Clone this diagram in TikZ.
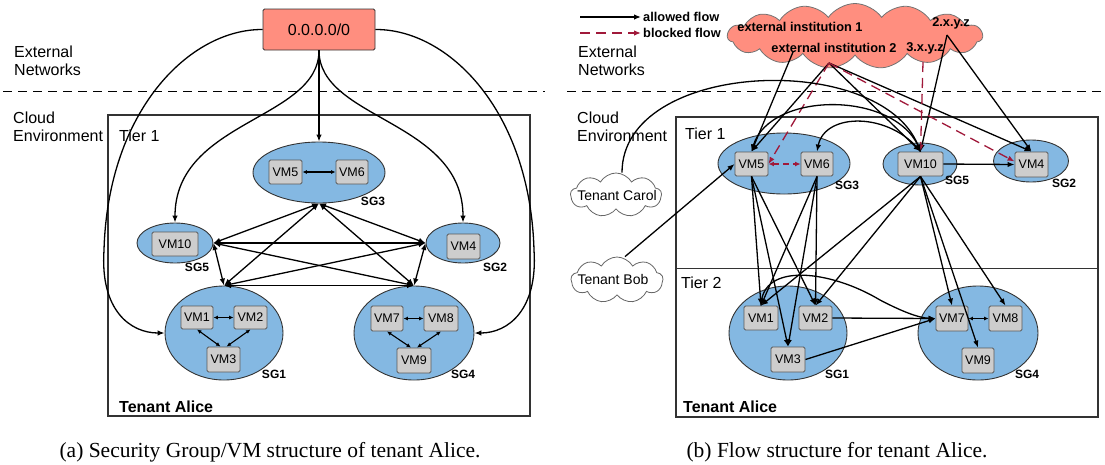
\documentclass[tikz,border=0pt]{standalone}
\usepackage{fontspec}
\setmainfont{Liberation Sans}
\newfontfamily\capfont{Liberation Serif}
\usetikzlibrary{shapes.geometric,shapes.symbols,arrows.meta}
\definecolor{salmon}{HTML}{FF8E7F}
\definecolor{sgblue}{HTML}{84B8E2}
\definecolor{vmgray}{HTML}{CDCDCD}
\definecolor{blockred}{HTML}{A0193A}
\definecolor{framegray}{HTML}{333333}
\begin{document}
\begin{tikzpicture}[x=1pt,y=-1pt,
  sg/.style={ellipse,draw=framegray,fill=sgblue,line width=0.9pt,inner sep=0pt},
  vm/.style={draw=black!65,fill=vmgray,rounded corners=1.5pt,line width=0.9pt,inner sep=0pt,
    minimum height=24pt,font=\fontsize{12.5}{14}\selectfont},
  sglab/.style={font=\fontsize{12}{14}\selectfont\bfseries,inner sep=0pt},
  big/.style={font=\fontsize{16}{18.5}\selectfont,align=left,inner sep=0pt},
  leg/.style={font=\fontsize{12.8}{15}\selectfont\bfseries,inner sep=0pt},
  frame/.style={draw=framegray,line width=1.1pt},
  sep/.style={draw=black,line width=1pt,dash pattern=on 9pt off 6pt},
  flow/.style={-{Latex[length=7pt,width=5.5pt]},line width=1.3pt},
  both/.style={{Latex[length=7pt,width=5.5pt]}-{Latex[length=7pt,width=5.5pt]},line width=1.3pt},
  small/.style={{Latex[length=4.5pt,width=4pt]}-{Latex[length=4.5pt,width=4pt]},line width=1.1pt},
  blocked/.style={-{Latex[length=7pt,width=5.5pt]},line width=1.3pt,draw=blockred,dash pattern=on 10pt off 6pt},
  tcloud/.style={cloud,cloud puffs=9,cloud puff arc=120,aspect=2,draw=black!60,fill=white,line width=0.8pt,
    inner sep=0pt},
  ttext/.style={font=\fontsize{14}{16}\selectfont,inner sep=0pt}
]
\useasboundingbox (0,0) rectangle (1105,464);

% ---------------- separators and texts ----------------
\draw[sep] (3,91) -- (545,91);
\draw[sep] (567,91) -- (1105,91);
\node[big,anchor=west] (extA) at (14,61) {External\\Networks};
\node[big,anchor=west] (cloudA) at (13,127) {Cloud\\Environment};
\node[big,anchor=west] (extB) at (578,61) {External\\Networks};
\node[big,anchor=west] (cloudB) at (577,127) {Cloud\\Environment};

% ================= LEFT PANEL =================
\draw[frame] (108,115) rectangle (530,416);
\node[big,anchor=west] (tierA) at (119,136) {Tier 1};
\node[big,anchor=west,font=\fontsize{16}{18}\selectfont\bfseries] (aliceA) at (119,407) {Tenant Alice};

\node[draw=framegray,fill=salmon,line width=0.9pt,rounded corners=1.5pt,minimum width=112pt,minimum height=41pt,
  font=\fontsize{16}{18}\selectfont] (net) at (319,29.5) {0.0.0.0/0};

\node[sg,minimum width=132pt,minimum height=61pt] (sg3a) at (319,172.5) {};
\node[vm,minimum width=33pt] (vm5a) at (285.5,172) {VM5};
\node[vm,minimum width=32pt] (vm6a) at (352,172) {VM6};
\node[sglab] (l3a) at (373,201) {SG3};

\node[sg,minimum width=76pt,minimum height=40pt] (sg5a) at (175,243) {};
\node[vm,minimum width=46pt] (vm10a) at (175,244) {VM10};
\node[sglab] (l5a) at (197,267) {SG5};

\node[sg,minimum width=74pt,minimum height=40pt] (sg2a) at (463,243) {};
\node[vm,minimum width=33pt,minimum height=25pt] (vm4a) at (463.5,246.5) {VM4};
\node[sglab] (l2a) at (495,267) {SG2};

\node[sg,minimum width=118pt,minimum height=94pt] (sg1a) at (224,333) {};
\node[vm,minimum width=32pt,minimum height=23pt] (vm1a) at (197,317.5) {VM1};
\node[vm,minimum width=33pt,minimum height=23pt] (vm2a) at (250.5,317.5) {VM2};
\node[vm,minimum width=33pt,minimum height=25pt] (vm3a) at (223.5,359.5) {VM3};
\node[sglab] (l1a) at (274,374) {SG1};

\node[sg,minimum width=120pt,minimum height=94pt] (sg4a) at (414,333) {};
\node[vm,minimum width=32pt,minimum height=25pt] (vm7a) at (387,318.5) {VM7};
\node[vm,minimum width=34pt,minimum height=25pt] (vm8a) at (441,318.5) {VM8};
\node[vm,minimum width=34pt,minimum height=25pt] (vm9a) at (414,360.5) {VM9};
\node[sglab] (l4a) at (463,374) {SG4};

% connectors from 0.0.0.0/0
\draw[flow] (net.south) -- (sg3a.north);
\draw[flow] (net.south) .. controls (319,120) and (175,120) .. (sg5a.north);
\draw[flow] (net.south) .. controls (319,120) and (463,120) .. (sg2a.north);
\draw[flow] (net.west) .. controls (190,29) and (108,110) .. (104,250) .. controls (100,310) and (130,333) .. (sg1a.west);
\draw[flow] (net.east) .. controls (448,29) and (530,110) .. (534,250) .. controls (538,310) and (508,333) .. (sg4a.east);

% complete graph between security groups
\draw[both] (sg3a.south) -- (sg5a.east);
\draw[both] (sg3a.south) -- (sg2a.west);
\draw[both] (sg3a.south) -- (sg1a.north);
\draw[both] (sg3a.south) -- (sg4a.north);
\draw[both] (sg5a.east) -- (sg2a.west);
\draw[both] (sg5a.east) -- (sg1a.north);
\draw[both] (sg5a.east) -- (sg4a.north);
\draw[both] (sg2a.west) -- (sg1a.north);
\draw[both] (sg2a.west) -- (sg4a.north);
\draw[both] (sg1a.north) -- (sg4a.north);

% inside groups
\draw[small] (vm5a.east) -- (vm6a.west);
\draw[small] (vm1a.east) -- (vm2a.west);
\draw[small] (vm1a.south) -- ([xshift=-3pt]vm3a.north);
\draw[small] (vm2a.south) -- ([xshift=3pt]vm3a.north);
\draw[small] (vm7a.east) -- (vm8a.west);
\draw[small] (vm7a.south) -- ([xshift=-3pt]vm9a.north);
\draw[small] (vm8a.south) -- ([xshift=3pt]vm9a.north);

\node[font=\capfont\fontsize{21.5}{24}\selectfont,inner sep=0pt] (capA) at (270,452) {(a) Security Group/VM structure of tenant Alice.};

% ================= RIGHT PANEL =================
\draw[frame] (676,117) rectangle (1098,417);
\draw[frame,line width=0.9pt] (676,268) -- (1098,268);
\node[big,anchor=west] (tier1B) at (685,134) {Tier 1};
\node[big,anchor=west] (tier2B) at (681,283) {Tier 2};
\node[big,anchor=west,font=\fontsize{16}{18}\selectfont\bfseries] (aliceB) at (683,407) {Tenant Alice};

% legend
\coordinate (lgA1) at (580,17);
\coordinate (lgA2) at (641,17);
\coordinate (lgB1) at (580,33);
\coordinate (lgB2) at (641,33);
\draw[flow] (lgA1) -- (lgA2);
\draw[blocked] (lgB1) -- (lgB2);
\node[leg,anchor=west] (legA) at (643,17) {allowed flow};
\node[leg,anchor=west] (legB) at (643,33) {blocked flow};

% external cloud
\node[cloud,cloud puffs=15,cloud puff arc=110,aspect=4,draw=black!55,fill=salmon,line width=0.8pt,
  minimum width=255pt,minimum height=65pt,inner sep=0pt] (ext) at (855,36) {};
\node[leg] (t1) at (800,27) {external institution 1};
\node[leg] (t3) at (951,23) {2.x.y.z};
\node[leg] (t2) at (834,48) {external institution 2};
\node[leg] (t4) at (925,48) {3.x.y.z};
\coordinate (e1p) at (793,52);
\coordinate (e2p) at (829,63);
\coordinate (e3p) at (923,62);
\coordinate (e4p) at (947,35);

% tenant clouds
\node[tcloud,minimum width=91pt,minimum height=44pt] (carol) at (616,195) {};
\node[ttext] (carolt) at (617,195) {Tenant Carol};
\node[tcloud,minimum width=92pt,minimum height=46pt] (bob) at (617,280) {};
\node[ttext] (bobt) at (613,279) {Tenant Bob};

% groups
\node[sg,minimum width=132pt,minimum height=61pt] (sg3b) at (784,163.5) {};
\node[vm,minimum width=33pt] (vm5b) at (751.5,164) {VM5};
\node[vm,minimum width=32pt] (vm6b) at (817,164) {VM6};
\node[sglab] (l3b) at (847,185) {SG3};

\node[sg,minimum width=74pt,minimum height=42pt] (sg5b) at (920,164) {};
\node[vm,minimum width=45pt] (vm10b) at (920.5,164) {VM10};
\node[sglab] (l5b) at (957,180) {SG5};

\node[sg,minimum width=75pt,minimum height=42pt] (sg2b) at (1031,161) {};
\node[vm,minimum width=33pt,minimum height=25pt] (vm4b) at (1031.5,164.5) {VM4};
\node[sglab] (l2b) at (1064,183) {SG2};

\node[sg,minimum width=118pt,minimum height=94pt] (sg1b) at (788,333) {};
\node[vm,minimum width=34pt] (vm1b) at (761,318) {VM1};
\node[vm,minimum width=33pt] (vm2b) at (815.5,318) {VM2};
\node[vm,minimum width=34pt,minimum height=25pt] (vm3b) at (788,359.5) {VM3};
\node[sglab] (l1b) at (837,374) {SG1};

\node[sg,minimum width=120pt,minimum height=94pt] (sg4b) at (978,333) {};
\node[vm,minimum width=32pt,minimum height=25pt] (vm7b) at (952,318.5) {VM7};
\node[vm,minimum width=33pt,minimum height=25pt] (vm8b) at (1005.5,318.5) {VM8};
\node[vm,minimum width=32pt,minimum height=25pt] (vm9b) at (978,360.5) {VM9};
\node[sglab] (l4b) at (1027,374) {SG4};

% flows from outside
\draw[flow] (e1p) -- (vm5b.north);
\draw[flow] (e2p) -- (vm5b.north);
\draw[flow] (e2p) -- (vm10b.north);
\draw[flow] (e2p) -- (vm4b.north);
\draw[flow] (e4p) -- (vm10b.north);
\draw[flow] (e4p) -- (vm4b.north);
\draw[blocked] (e2p) -- (vm5b.east);
\draw[blocked] (e2p) -- ([yshift=3pt]vm4b.west);
\draw[blocked] (e3p) -- (vm10b.north);
\draw[flow] ([xshift=6pt]carol.north) .. controls (622,60) and (880,50) .. (vm10b.north);
\draw[flow] ([xshift=8pt]bob.north) -- (vm5b.west);

% tier 1 internal
\draw[flow] (vm10b.north) .. controls (900,90) and (770,90) .. (vm5b.north);
\draw[flow] (vm10b.north) .. controls (890,112) and (825,112) .. (vm6b.north);
\draw[flow] (vm10b.east) -- (vm4b.west);
\draw[{Latex[length=5.5pt,width=5pt]}-{Latex[length=5.5pt,width=5pt]},line width=1.2pt,draw=blockred,dash pattern=on 6pt off 4pt] (vm5b.east) -- (vm6b.west);

% tier 1 -> tier 2
\draw[flow] (vm5b.south) -- (vm1b.north);
\draw[flow] (vm5b.south) -- (vm2b.north);
\draw[flow] (vm5b.south) -- (vm3b.north);
\draw[flow] (vm6b.south) -- (vm1b.north);
\draw[flow] (vm6b.south) -- (vm2b.north);
\draw[flow] (vm6b.south) -- (vm3b.north);
\draw[flow] (vm10b.south) -- (vm1b.north);
\draw[flow] (vm10b.south) -- (vm2b.north);
\draw[flow] (vm10b.south) -- (vm7b.north);
\draw[flow] (vm10b.south) -- (vm9b.north);
\draw[flow] (vm10b.south) -- (vm8b.north);

% tier 2
\draw[flow] (vm2b.east) -- (vm7b.west);
\draw[flow] (vm3b.east) -- (vm7b.west);
\draw[flow] (vm1b.north) .. controls (762,262) and (830,270) .. (880,300) .. controls (905,313) and (920,318) .. (vm7b.west);
\draw[small] (vm7b.east) -- (vm8b.west);

\node[font=\capfont\fontsize{21.5}{24}\selectfont,inner sep=0pt] (capB) at (837,452) {(b) Flow structure for tenant Alice.};
\end{tikzpicture}
\end{document}
